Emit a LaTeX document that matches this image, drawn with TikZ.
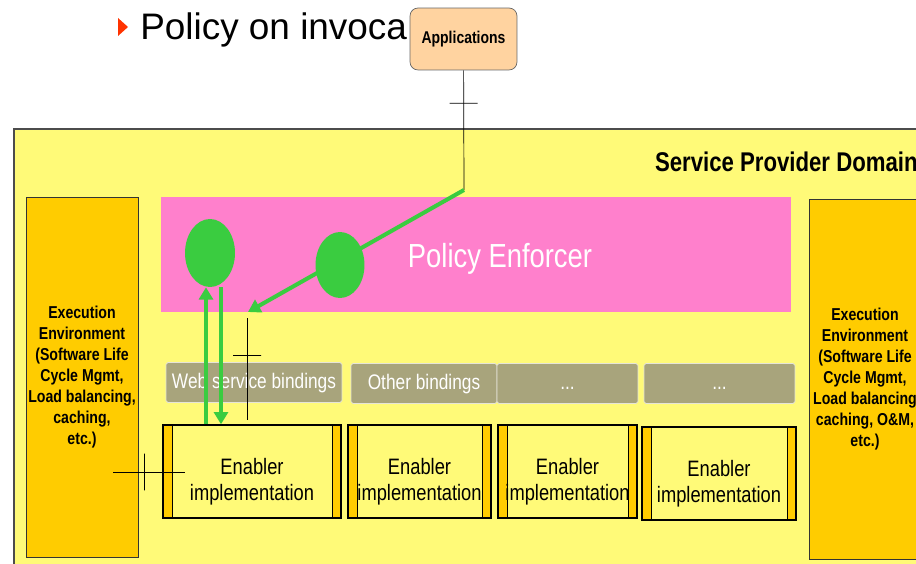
\documentclass[tikz,border=0pt]{standalone}
\usepackage{fontspec}
\setmainfont{Liberation Sans}
\newfontfamily\narrow[FakeStretch=0.82]{Liberation Sans}
\usetikzlibrary{arrows.meta,shapes.geometric}
\definecolor{domainyellow}{RGB}{255,250,120}
\definecolor{envorange}{RGB}{255,204,0}
\definecolor{enforcerpink}{RGB}{255,128,204}
\definecolor{flowgreen}{RGB}{58,204,64}
\definecolor{bindgray}{RGB}{168,164,124}
\definecolor{apppeach}{RGB}{255,211,160}
\definecolor{bulletred}{RGB}{255,51,0}
\begin{document}
\begin{tikzpicture}[x=0.02cm,y=-0.02cm,
  envbox/.style={draw=black!80,fill=envorange,minimum width=2.24cm,minimum height=7.2cm,inner sep=0pt,align=center,font=\narrow\bfseries\fontsize{9.8}{12}\selectfont},
  bindbox/.style={draw=white!70!bindgray,fill=bindgray,rounded corners=1pt,minimum height=0.8cm,inner sep=0pt,text=white,text height=1.6ex,text depth=0.4ex,font=\narrow\fontsize{12}{14}\selectfont},
  enabler/.style={draw=black,thick,fill=domainyellow,minimum height=1.86cm,inner sep=0pt,
    label={[align=center,yshift=-0.2cm,font=\narrow\fontsize{12.7}{14.8}\selectfont]center:Enabler\\implementation},
    path picture={\draw[fill=envorange,thin] (path picture bounding box.north west) rectangle ([xshift=0.18cm]path picture bounding box.south west);
      \draw[fill=envorange,thin] (path picture bounding box.north east) rectangle ([xshift=-0.18cm]path picture bounding box.south east);}},
  greenflow/.style={draw=flowgreen,line width=2.3pt,-{Triangle[length=7pt,width=8pt]}},
  crossmark/.style={sloped,draw,minimum width=0pt,minimum height=#1,inner sep=0pt},
  crossmark/.default=0.56cm]
\useasboundingbox (0,0) rectangle (916,564);
\fill[bulletred] (118,18) -- (128,27) -- (118,36) -- cycle;
\node[anchor=base west,inner sep=0pt,font=\fontsize{21}{25}\selectfont] (topic) at (140,40) {Policy on invoca};
\node[draw=black!60,fill=apppeach,rounded corners=0.16cm,minimum width=2.14cm,minimum height=1.24cm,inner sep=0pt,font=\narrow\bfseries\fontsize{9.7}{11}\selectfont] (apps) at (463.5,39) {\raisebox{-2pt}{Applications}};
\draw[draw=black!70,line width=1pt,fill=domainyellow] (14,129) rectangle (960,600);
\node[anchor=base east,inner sep=0pt,font=\narrow\bfseries\fontsize{15.4}{18}\selectfont] (domaintitle) at (918,172) {Service Provider Domain};
\node[envbox] (envL) at (82,377) {Execution\\Environment\\(Software Life\\Cycle Mgmt,\\Load balancing,\\caching,\\etc.)};
\node[envbox] (envR) at (865,379) {Execution\\Environment\\(Software Life\\Cycle Mgmt,\\Load balancing\\caching, O\&M,\\etc.)};
\node[fill=enforcerpink,minimum width=12.6cm,minimum height=2.3cm,inner sep=0pt] (pe) at (476,254.5) {};
\node[text=white,font=\narrow\fontsize{19}{22}\selectfont] (pelabel) at (500,259) {Policy Enforcer};
\node[ellipse,fill=flowgreen,minimum width=1cm,minimum height=1.36cm,inner sep=0pt] (e1) at (210,253) {};
\node[ellipse,fill=flowgreen,minimum width=0.98cm,minimum height=1.32cm,inner sep=0pt] (e2) at (340,265) {};
\node[bindbox,minimum width=3.52cm] (wsb) at (254,382.5) {Web service bindings};
\node[bindbox,minimum width=2.92cm] (other) at (424,383.5) {Other bindings};
\node[bindbox,minimum width=2.82cm] (more1) at (567.5,383.5) {...};
\node[bindbox,minimum width=3.02cm] (more2) at (719.5,383.5) {...};
\node[enabler,minimum width=3.56cm] (en1) at (252,471.5) {};
\node[enabler,minimum width=2.86cm] (en2) at (419.5,471.5) {};
\node[enabler,minimum width=2.78cm] (en3) at (567.5,471.5) {};
\node[enabler,minimum width=3.08cm] (en4) at (719,473.5) {};
\coordinate (entry) at (464,190);
\coordinate (pehit) at (248,312);
\coordinate (upline) at (206,0);
\coordinate (downline) at (221,0);
\coordinate (bindtop) at (247,318);
\coordinate (bindbot) at (247,420);
\coordinate (envout) at (113,472);
\coordinate (en1in) at (185,472);
\draw (apps) -- node[crossmark,pos=0.275]{} (entry);
\draw[greenflow] (entry) -- (pehit);
\draw[greenflow] (en1.north -| upline) -- (e1.south -| upline);
\draw[greenflow] (e1.south -| downline) -- (en1.north -| downline);
\draw (bindtop) -- node[crossmark,pos=0.37]{} (bindbot);
\draw (envout) -- node[crossmark=0.74cm,pos=0.44]{} (en1in);
\end{tikzpicture}
\end{document}
